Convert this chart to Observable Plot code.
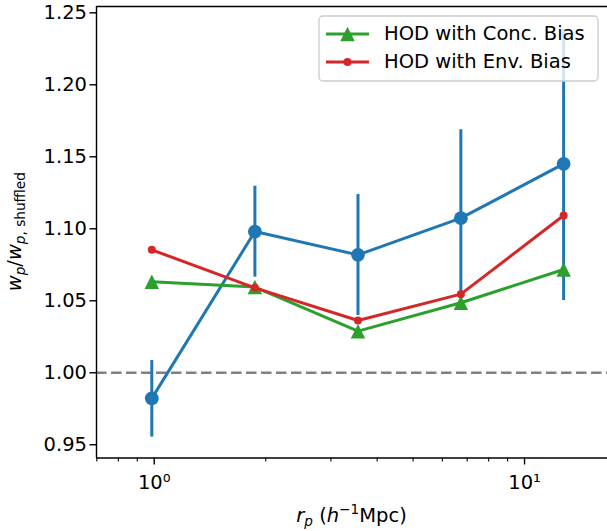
<!DOCTYPE html>
<html><head><meta charset="utf-8">
<script src="https://cdn.jsdelivr.net/npm/d3@7"></script>
<script src="https://cdn.jsdelivr.net/npm/@observablehq/plot@0.6"></script>
<style>body{margin:0;background:#fff} svg{font-family:"DejaVu Sans";}</style>
</head><body><div id="chart"></div>
<script>
// ---- data ----
const rp = [0.985, 1.87, 3.55, 6.73, 12.75];
const ratioMean = [0.9822, 1.0981, 1.0819, 1.1074, 1.1451];
const ratioLow = [0.9553, 1.0664, 1.0398, 1.0560, 1.0502];
const ratioHigh = [1.0085, 1.1296, 1.1238, 1.1688, 1.2384];
const concBias = [1.0632, 1.0595, 1.0289, 1.0486, 1.0717];
const envBias = [1.0854, 1.0590, 1.0363, 1.0546, 1.1092];
const seriesNames = ["HOD with Conc. Bias", "HOD with Env. Bias"];
const yTicks = [0.95, 1.00, 1.05, 1.10, 1.15, 1.20, 1.25];
const xMajorTicks = [1, 10];
const xMajorLabels = ["10⁰", "10¹"];
const xMinorTicks = [0.7, 0.8, 0.9, 2, 3, 4, 5, 6, 7, 8, 9];
const xDomain = [0.6984, 16.75];
const yDomain = [0.9408, 1.2544];
const refLine = [1];

const BLUE = "#1f77b4", GREEN = "#2ca02c", RED = "#d62728";
const FS = 19.5;

const blue = rp.map((x, i) => ({x, y: ratioMean[i], lo: ratioLow[i], hi: ratioHigh[i]}));
const green = rp.map((x, i) => ({x, y: concBias[i]}));
const red = rp.map((x, i) => ({x, y: envBias[i]}));

// matplotlib-style "^" marker (bbox-centred, width == height)
const mplTriangle = {draw(ctx, size) {
  const a = Math.sqrt(size / Math.PI);
  ctx.moveTo(0, -a); ctx.lineTo(a, a); ctx.lineTo(-a, a); ctx.closePath();
}};

const W = 607, H = 531;
const mL = 96, mR = 0, mT = 6, mB = 73.5;

const chart = Plot.plot({
  width: W, height: H,
  marginLeft: mL, marginRight: mR, marginTop: mT, marginBottom: mB,
  style: {fontFamily: "DejaVu Sans", fontSize: FS + "px", background: "white", color: "black"},
  x: {type: "log", domain: xDomain, axis: null},
  y: {domain: yDomain, axis: null},
  marks: [
    Plot.ruleY(refLine, {y: d => d, stroke: "#808080", strokeWidth: 2.7, strokeDasharray: "10.5,4.5"}),
    Plot.ruleX(blue, {x: "x", y1: "lo", y2: "hi", stroke: BLUE, strokeWidth: 3}),
    Plot.line(blue, {x: "x", y: "y", stroke: BLUE, strokeWidth: 3}),
    Plot.dot(blue, {x: "x", y: "y", r: 6.9, fill: BLUE}),
    Plot.line(green, {x: "x", y: "y", stroke: GREEN, strokeWidth: 3}),
    Plot.dot(green, {x: "x", y: "y", r: 7.25, symbol: mplTriangle, fill: GREEN}),
    Plot.line(red, {x: "x", y: "y", stroke: RED, strokeWidth: 3}),
    Plot.dot(red, {x: "x", y: "y", r: 4, fill: RED}),
    // spines (left, bottom, top)
    Plot.ruleX([xDomain[0]], {x: d => d, stroke: "black", strokeWidth: 1.4}),
    Plot.ruleY([yDomain[0]], {y: d => d, stroke: "black", strokeWidth: 1.4}),
    Plot.ruleY([yDomain[1]], {y: d => d, stroke: "black", strokeWidth: 1.4}),
    Plot.axisY({ticks: yTicks, tickFormat: d3.format(".2f"), tickSize: 6.5, tickPadding: 3, strokeWidth: 1.4, label: null, fontSize: FS}),
    Plot.axisX({ticks: xMajorTicks, tickFormat: (d) => xMajorLabels[xMajorTicks.indexOf(d)], tickSize: 7, tickPadding: 10, strokeWidth: 1.4, label: null, fontSize: FS}),
    Plot.axisX({ticks: xMinorTicks, tickFormat: () => "", tickSize: 4, strokeWidth: 1.1, label: null})
  ]
});

document.getElementById("chart").append(chart);
const svg = d3.select(chart);

// y label: w_p / w_{p, shuffled}
const yl = svg.append("text")
  .attr("transform", `translate(20.5,${mT + (H - mT - mB) / 2}) rotate(-90)`)
  .attr("text-anchor", "middle").attr("font-size", FS).attr("fill", "black");
yl.append("tspan").attr("font-style", "italic").text("w");
yl.append("tspan").attr("font-style", "italic").attr("font-size", FS * 0.7).attr("dy", 4).text("p");
yl.append("tspan").attr("dy", -4).text("/");
yl.append("tspan").attr("font-style", "italic").text("w");
const ys = yl.append("tspan").attr("font-size", FS * 0.7).attr("dy", 4);
ys.append("tspan").attr("font-style", "italic").text("p");
ys.append("tspan").text(", shuffled");

// x label: r_p (h^{-1}Mpc)
const xl = svg.append("text")
  .attr("x", mL + (W - mL - mR) / 2).attr("y", 522)
  .attr("text-anchor", "middle").attr("font-size", FS).attr("fill", "black");
xl.append("tspan").attr("font-style", "italic").text("r");
xl.append("tspan").attr("font-style", "italic").attr("font-size", FS * 0.7).attr("dy", 4).text("p");
xl.append("tspan").attr("dy", -4).text(" (");
xl.append("tspan").attr("font-style", "italic").text("h");
xl.append("tspan").attr("font-size", FS * 0.7).attr("dy", -8).text("−1");
xl.append("tspan").attr("dy", 8).text("Mpc)");

// legend
const lg = svg.append("g").attr("text-anchor", "start");
lg.append("rect").attr("x", 319).attr("y", 16).attr("width", 279).attr("height", 65)
  .attr("rx", 4)
  .attr("style", "fill:#ffffff;fill-opacity:0.8;stroke:#cccccc;stroke-width:1.3");
const items = [
  {name: seriesNames[0], color: GREEN, marker: "tri"},
  {name: seriesNames[1], color: RED, marker: "dot"}
];
items.forEach((it, i) => {
  const cy = 34 + i * 28;
  lg.append("line").attr("x1", 326).attr("x2", 369).attr("y1", cy).attr("y2", cy)
    .attr("stroke", it.color).attr("stroke-width", 3);
  if (it.marker === "tri") {
    lg.append("path").attr("d", d3.symbol(mplTriangle, 7.25 * 7.25 * Math.PI)())
      .attr("transform", `translate(347.5,${cy})`).attr("fill", it.color);
  } else {
    lg.append("circle").attr("cx", 347.5).attr("cy", cy).attr("r", 4).attr("fill", it.color);
  }
  lg.append("text").attr("x", 384).attr("y", cy + 6.3).attr("font-size", FS)
    .attr("text-anchor", "start").attr("fill", "black").text(it.name);
});
</script>
</body></html>
